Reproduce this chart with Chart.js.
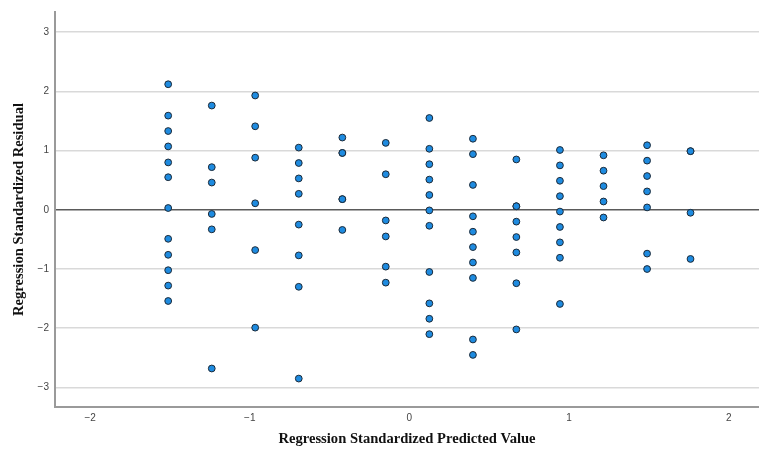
<!DOCTYPE html>
<html>
<head>
<meta charset="utf-8">
<script src="https://cdn.jsdelivr.net/npm/chart.js@4/dist/chart.umd.min.js"></script>
<style>
  html, body { margin: 0; padding: 0; background: #fff; }
  #plot { display: block; }
</style>
</head>
<body>
<canvas id="plot" width="759" height="451"></canvas>
<script>
// Predicted value of each column of points (x)
const predicted = [-1.511, -1.238, -0.966, -0.693, -0.42, -0.148, 0.125, 0.398, 0.67, 0.943, 1.216, 1.489, 1.761];

// Standardized residuals (y)
const col1 = [2.12, 1.59, 1.33, 1.07, 0.8, 0.55, 0.03, -0.49, -0.76, -1.02, -1.28, -1.54];
const col2 = [1.76, 0.72, 0.46, -0.07, -0.33, -2.68];
const col3 = [1.93, 1.41, 0.88, 0.11, -0.68, -1.99];
const col4 = [1.05, 0.79, 0.53, 0.27, -0.25, -0.77, -1.3, -2.85];
const col5 = [1.22, 0.96, 0.96, 0.18, 0.18, -0.34];
const col6 = [1.13, 0.6, -0.18, -0.45, -0.96, -1.23];
const col7 = [1.55, 1.03, 0.77, 0.51, 0.25, -0.01, -0.27, -1.05, -1.58, -1.84, -2.1];
const col8 = [1.2, 0.94, 0.42, -0.11, -0.37, -0.63, -0.89, -1.15, -2.19, -2.45];
const col9 = [0.85, 0.06, 0.06, -0.2, -0.46, -0.72, -1.24, -2.02];
const col10 = [1.01, 0.75, 0.49, 0.23, -0.03, -0.29, -0.55, -0.81, -1.59];
const col11 = [0.92, 0.66, 0.4, 0.14, -0.13];
const col12 = [1.09, 0.83, 0.57, 0.31, 0.04, -0.74, -1.0];
const col13 = [0.99, 0.99, -0.05, -0.83];
const residuals = [col1, col2, col3, col4, col5, col6, col7, col8, col9, col10, col11, col12, col13];

const xTicks = [-2, -1, 0, 1, 2];
const yTicks = [-3, -2, -1, 0, 1, 2, 3];

// flatten into {x, y} points for the scatter
const points = [];
residuals.forEach((col, i) => {
  col.forEach((r) => points.push({ x: predicted[i], y: r }));
});

const tickFont = { family: "'Liberation Sans', Arial, sans-serif", size: 10 };
const titleFont = { family: "'Liberation Serif', 'Times New Roman', serif", size: 14.6, weight: "bold" };
const minus = (v) => String(v).replace("-", "\u2212");

new Chart(document.getElementById("plot"), {
  type: "scatter",
  data: {
    datasets: [
      {
        data: points,
        backgroundColor: "#1e8be0",
        borderColor: "#1c2a38",
        borderWidth: 1,
        pointRadius: 3.4,
        pointHoverRadius: 3.4,
      },
    ],
  },
  options: {
    responsive: false,
    animation: false,
    layout: { autoPadding: false, padding: { top: 12, right: 0, left: 0, bottom: 0 } },
    plugins: { legend: { display: false }, tooltip: { enabled: false } },
    scales: {
      x: {
        type: "linear",
        min: -2.22,
        max: 2.19,
        afterFit: (s) => { s.height = 44; s.paddingLeft = 0; s.paddingRight = 0; },
        afterBuildTicks: (s) => { s.ticks = xTicks.map((v) => ({ value: v })); },
        grid: { display: false, drawTicks: false },
        border: { display: true, color: "#9a9a9a", width: 2 },
        ticks: { font: tickFont, color: "#444", padding: 5, maxRotation: 0, callback: minus },
        title: {
          display: true,
          text: "Regression Standardized Predicted Value",
          font: titleFont,
          color: "#111",
          padding: { top: 0, bottom: 3 },
        },
      },
      y: {
        type: "linear",
        min: -3.33,
        max: 3.34,
        afterFit: (s) => { s.width = 55; s.paddingTop = 0; s.paddingBottom = 0; },
        afterBuildTicks: (s) => { s.ticks = yTicks.map((v) => ({ value: v })); },
        grid: {
          drawTicks: false,
          color: (ctx) => (ctx.tick && ctx.tick.value === 0 ? "#5a5a5a" : "#d9d9d9"),
          lineWidth: 1.5,
        },
        border: { display: true, color: "#9a9a9a", width: 2 },
        ticks: { font: tickFont, color: "#444", padding: 6, callback: minus },
        title: {
          display: true,
          text: "Regression Standardized Residual",
          font: titleFont,
          color: "#111",
          padding: { top: 10, bottom: 0 },
        },
      },
    },
  },
});
</script>
</body>
</html>
